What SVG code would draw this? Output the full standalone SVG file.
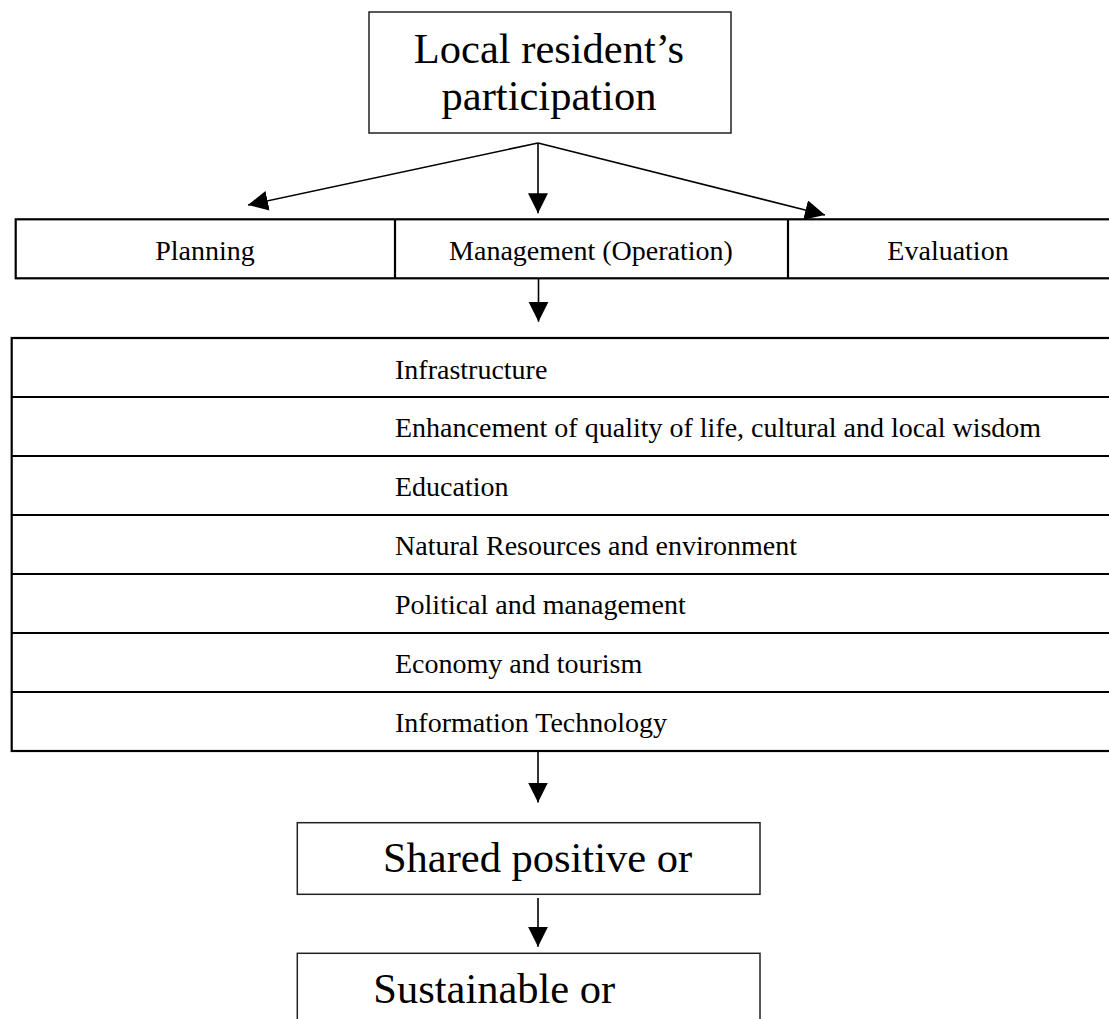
<svg xmlns="http://www.w3.org/2000/svg" width="1109" height="1019" viewBox="0 0 1109 1019">
<style>
text{font-family:"Liberation Serif","Times New Roman",serif;fill:#000}
.big{font-size:42.5px}
.sm{font-size:28px}
.box{fill:#fff;stroke:#222;stroke-width:1.5}
.thick{fill:#fff;stroke:#000;stroke-width:2.2}
.ln{stroke:#000;stroke-width:2.2}
.conn{stroke:#000;stroke-width:1.6;fill:none}
</style>
<defs>
<marker id="ah" markerUnits="userSpaceOnUse" markerWidth="21" markerHeight="21" viewBox="0 0 21 21" refX="20" refY="10" orient="auto">
<path d="M0,0 L20,10 L0,20 z" fill="#000"/>
</marker>
</defs>
<rect width="1109" height="1019" fill="#fff"/>
<g id="node-participation">
<rect class="box" x="369" y="12" width="362" height="121"/>
<text class="big" x="549" y="63" text-anchor="middle">Local resident’s</text>
<text class="big" x="549" y="110" text-anchor="middle">participation</text>
</g>
<g id="node-stages">
<rect class="thick" x="15.7" y="219.3" width="1100" height="59"/>
<line class="ln" x1="395" y1="219.3" x2="395" y2="278.3"/>
<line class="ln" x1="788" y1="219.3" x2="788" y2="278.3"/>
<text class="sm" x="205" y="260" text-anchor="middle">Planning</text>
<text class="sm" x="591" y="260" text-anchor="middle">Management (Operation)</text>
<text class="sm" x="948" y="260" text-anchor="middle">Evaluation</text>
</g>
<g id="node-areas">
<rect class="thick" x="11.7" y="338" width="1110" height="413"/>
<line class="ln" x1="11.7" y1="397" x2="1109" y2="397"/>
<line class="ln" x1="11.7" y1="456" x2="1109" y2="456"/>
<line class="ln" x1="11.7" y1="515" x2="1109" y2="515"/>
<line class="ln" x1="11.7" y1="574" x2="1109" y2="574"/>
<line class="ln" x1="11.7" y1="633" x2="1109" y2="633"/>
<line class="ln" x1="11.7" y1="692" x2="1109" y2="692"/>
<text class="sm" x="395" y="379">Infrastructure</text>
<text class="sm" x="395" y="437">Enhancement of quality of life, cultural and local wisdom</text>
<text class="sm" x="395" y="496">Education</text>
<text class="sm" x="395" y="555">Natural Resources and environment</text>
<text class="sm" x="395" y="614">Political and management</text>
<text class="sm" x="395" y="673">Economy and tourism</text>
<text class="sm" x="395" y="732">Information Technology</text>
</g>
<g id="node-shared">
<rect class="box" x="297.3" y="822.7" width="462.7" height="71.6"/>
<text class="big" x="537.5" y="871.7" text-anchor="middle">Shared positive or</text>
</g>
<g id="node-sustainable">
<rect class="box" x="297.3" y="953.3" width="462.7" height="80"/>
<text class="big" x="373.3" y="1003">Sustainable or</text>
</g>
<g id="connectors">
<line class="conn" x1="538" y1="143" x2="248" y2="205" marker-end="url(#ah)"/>
<line class="conn" x1="538" y1="143" x2="538" y2="213.3" marker-end="url(#ah)"/>
<line class="conn" x1="538" y1="143" x2="825" y2="215" marker-end="url(#ah)"/>
<line class="conn" x1="538.5" y1="279" x2="538.5" y2="321.7" marker-end="url(#ah)"/>
<line class="conn" x1="538" y1="752" x2="538" y2="802.5" marker-end="url(#ah)"/>
<line class="conn" x1="538" y1="898" x2="538" y2="946.7" marker-end="url(#ah)"/>
</g>
</svg>
